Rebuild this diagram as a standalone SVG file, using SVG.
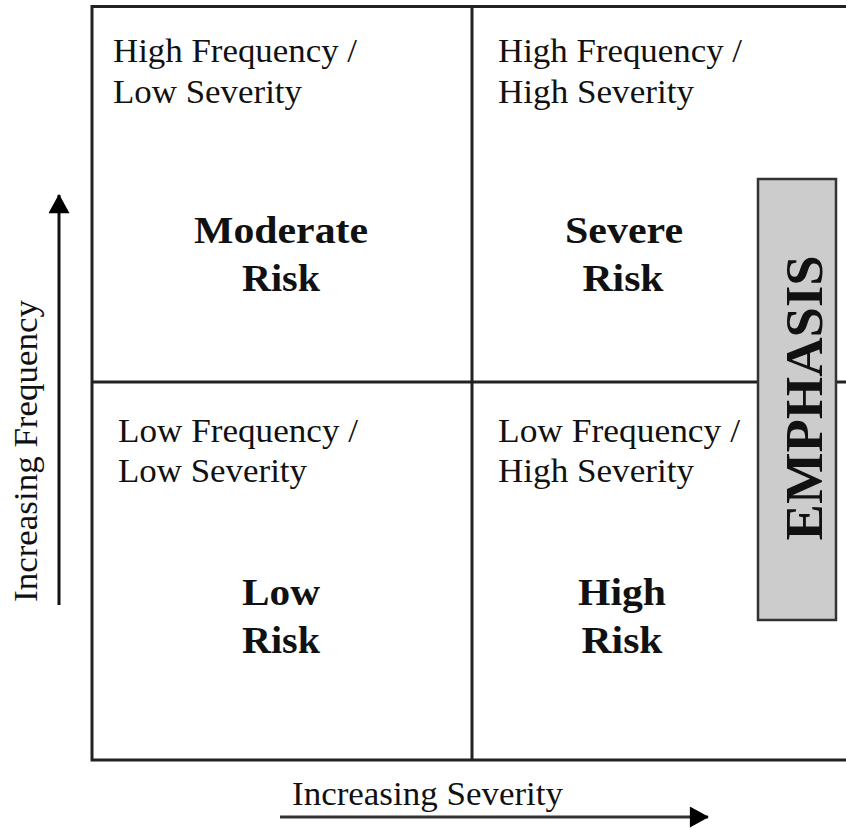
<svg xmlns="http://www.w3.org/2000/svg" width="846" height="829" viewBox="0 0 846 829">
<defs>
<style>
.t{font-family:"Liberation Serif","Times New Roman",serif;font-size:34px;fill:#111}
.b{font-family:"Liberation Serif","Times New Roman",serif;font-size:38px;font-weight:bold;fill:#111;text-anchor:middle}
.ln{stroke:#222;stroke-width:3;fill:none}
</style>
<marker id="ah" viewBox="0 0 20 22" refX="19" refY="11" markerWidth="20" markerHeight="21" markerUnits="userSpaceOnUse" orient="auto">
<path d="M0,0 L20,11 L0,22 z" fill="#000"/>
</marker>
</defs>
<rect width="846" height="829" fill="#fff"/>
<g id="grid">
<path class="ln" d="M846,6.5 H92 V760 H846"/>
<path class="ln" d="M472,6.5 V760"/>
<path class="ln" d="M92,382 H846"/>
</g>
<g id="q-high-freq-low-sev">
<text class="t" x="113" y="62" textLength="244" lengthAdjust="spacingAndGlyphs">High Frequency /</text>
<text class="t" x="113" y="103" textLength="189" lengthAdjust="spacingAndGlyphs">Low Severity</text>
<text class="b" x="281" y="243" textLength="174" lengthAdjust="spacingAndGlyphs">Moderate</text>
<text class="b" x="281" y="291" textLength="78" lengthAdjust="spacingAndGlyphs">Risk</text>
</g>
<g id="q-high-freq-high-sev">
<text class="t" x="498" y="62" textLength="244" lengthAdjust="spacingAndGlyphs">High Frequency /</text>
<text class="t" x="498" y="103" textLength="196" lengthAdjust="spacingAndGlyphs">High Severity</text>
<text class="b" x="624" y="243" textLength="118" lengthAdjust="spacingAndGlyphs">Severe</text>
<text class="b" x="623" y="291" textLength="81" lengthAdjust="spacingAndGlyphs">Risk</text>
</g>
<g id="q-low-freq-low-sev">
<text class="t" x="118" y="442" textLength="240" lengthAdjust="spacingAndGlyphs">Low Frequency /</text>
<text class="t" x="118" y="482" textLength="189" lengthAdjust="spacingAndGlyphs">Low Severity</text>
<text class="b" x="281" y="605" textLength="78" lengthAdjust="spacingAndGlyphs">Low</text>
<text class="b" x="281" y="653" textLength="78" lengthAdjust="spacingAndGlyphs">Risk</text>
</g>
<g id="q-low-freq-high-sev">
<text class="t" x="498" y="442" textLength="242" lengthAdjust="spacingAndGlyphs">Low Frequency /</text>
<text class="t" x="498" y="482" textLength="196" lengthAdjust="spacingAndGlyphs">High Severity</text>
<text class="b" x="622" y="605" textLength="88" lengthAdjust="spacingAndGlyphs">High</text>
<text class="b" x="622" y="653" textLength="81" lengthAdjust="spacingAndGlyphs">Risk</text>
</g>
<g id="emphasis">
<rect x="758" y="179" width="78" height="441" fill="#cccccc" stroke="#333" stroke-width="2.5"/>
<text transform="translate(822,398) rotate(-90)" x="0" y="0" style="font-family:'Liberation Serif','Times New Roman',serif;font-size:52px;font-weight:bold;fill:#111;text-anchor:middle" textLength="285" lengthAdjust="spacingAndGlyphs">EMPHASIS</text>
</g>
<g id="connectors">
<line x1="59" y1="605" x2="59" y2="195" stroke="#111" stroke-width="3" marker-end="url(#ah)"/>
<line x1="280" y1="817" x2="708" y2="817" stroke="#333" stroke-width="3" marker-end="url(#ah)"/>
</g>
<g id="axis-labels">
<text class="t" transform="translate(37,451) rotate(-90)" x="0" y="0" text-anchor="middle" textLength="302" lengthAdjust="spacingAndGlyphs">Increasing Frequency</text>
<text class="t" x="292" y="805" textLength="271" lengthAdjust="spacingAndGlyphs">Increasing Severity</text>
</g>
</svg>
